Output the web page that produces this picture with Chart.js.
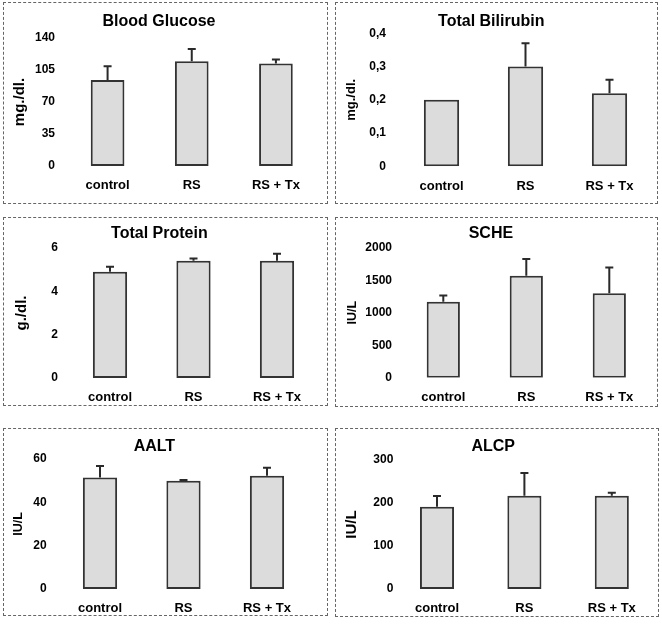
<!DOCTYPE html>
<html>
<head>
<meta charset="utf-8">
<script src="https://cdn.jsdelivr.net/npm/chart.js@4"></script>
<style>
body { margin: 0; background: #fff; width: 662px; height: 628px; position: relative; overflow: hidden; }
canvas { position: absolute; }
.box { position: absolute; border: 1px dashed #666; pointer-events: none; }
</style>
</head>
<body>
<script>
// data
const categories = ['control', 'RS', 'RS + Tx'];
const titles = ['Blood Glucose', 'Total Bilirubin', 'Total Protein', 'SCHE', 'AALT', 'ALCP'];
const yTitles = ['mg./dl.', 'mg./dl.', 'g./dl.', 'IU/L', 'IU/L', 'IU/L'];

const glucose = [94, 114.5, 112];
const glucoseErr = [15, 13.5, 4.5];
const bilirubin = [0.2, 0.3, 0.22];
const bilirubinErr = [0, 0.07, 0.04];
const protein = [4.9, 5.41, 5.41];
const proteinErr = [0.24, 0.11, 0.33];
const sche = [1170, 1570, 1300];
const scheErr = [95, 255, 395];
const aalt = [51.5, 50, 52.3];
const aaltErr = [5.3, 0.3, 3.7];
const alcp = [191, 217, 217];
const alcpErr = [25, 53, 7];

const yMax = [140, 0.4, 6, 2000, 60, 300];
const yStep = [35, 0.1, 2, 500, 20, 100];

const values = [glucose, bilirubin, protein, sche, aalt, alcp];
const errors = [glucoseErr, bilirubinErr, proteinErr, scheErr, aaltErr, alcpErr];

// layout of each panel (page pixels)
const panels = [
    { cell: [0, 0, 331, 210], box: [3, 2, 326, 202], titleY: 22, top: 38, bottom: 166, left: 65.5, right: 318, tickRight: 55, yTitleX: 20, yTitleSize: 15, xLabelY: 185, barPct: 0.40 },
    { cell: [331, 0, 331, 210], box: [335, 2, 656, 202], titleY: 21.7, top: 33.3, bottom: 166.3, left: 399.5, right: 651.5, tickRight: 386, yTitleX: 351.7, yTitleSize: 13, xLabelY: 186, barPct: 0.42 },
    { cell: [0, 210, 331, 206], box: [3, 217, 326, 404], titleY: 234, top: 248, bottom: 378, left: 68.25, right: 318.75, tickRight: 58, yTitleX: 22, yTitleSize: 15, xLabelY: 397, barPct: 0.41 },
    { cell: [331, 210, 331, 206], box: [335, 217, 656, 405], titleY: 234, top: 247.7, bottom: 377.7, left: 401.8, right: 650.8, tickRight: 392, yTitleX: 352.7, yTitleSize: 12.5, xLabelY: 397.7, barPct: 0.40 },
    { cell: [0, 416, 331, 212], box: [3, 428, 326, 614], titleY: 446.7, top: 459, bottom: 589, left: 58.25, right: 308.75, tickRight: 46.7, yTitleX: 18.3, yTitleSize: 12.5, xLabelY: 608.3, barPct: 0.41 },
    { cell: [331, 416, 331, 212], box: [335, 428, 657, 615], titleY: 446.7, top: 460, bottom: 589, left: 393.3, right: 655.5, tickRight: 395, yTitleX: 352, yTitleSize: 15, xLabelY: 608.3, barPct: 0.39 }
];

const fontFamily = "'Liberation Sans', Arial, sans-serif";
const textColor = '#000';

const errorBars = {
    id: 'errorBars',
    afterDatasetsDraw(chart) {
        const ds = chart.data.datasets[0];
        const meta = chart.getDatasetMeta(0);
        const yScale = chart.scales.y;
        const ctx = chart.ctx;
        ctx.save();
        ctx.strokeStyle = '#2a2a2a';
        ctx.lineWidth = 2;
        meta.data.forEach((bar, j) => {
            const e = ds.errors[j];
            if (!e) return;
            const top = yScale.getPixelForValue(ds.data[j] + e);
            ctx.beginPath();
            ctx.moveTo(bar.x, bar.y);
            ctx.lineTo(bar.x, top);
            ctx.moveTo(bar.x - 4, top);
            ctx.lineTo(bar.x + 4, top);
            ctx.stroke();
        });
        ctx.restore();
    }
};

panels.forEach((p, i) => {
    const box = document.createElement('div');
    box.className = 'box';
    box.style.left = p.box[0] + 'px';
    box.style.top = p.box[1] + 'px';
    box.style.width = (p.box[2] - p.box[0]) + 'px';
    box.style.height = (p.box[3] - p.box[1]) + 'px';

    const c = document.createElement('canvas');
    c.width = p.cell[2];
    c.height = p.cell[3];
    c.style.left = p.cell[0] + 'px';
    c.style.top = p.cell[1] + 'px';
    document.body.appendChild(c);
    document.body.appendChild(box);

    const titleLh = 16 * 1.2;
    const titleTop = p.titleY - p.cell[1] - titleLh / 2;
    const titleBottom = p.top - p.cell[1] - titleTop - titleLh;
    const yTitleLh = p.yTitleSize * 1.2;
    const xLabelLh = 13 * 1.2;

    new Chart(c, {
        type: 'bar',
        data: {
            labels: categories,
            datasets: [{
                data: values[i],
                errors: errors[i],
                backgroundColor: '#dcdcdc',
                borderColor: '#333',
                borderWidth: 2,
                borderSkipped: false,
                barPercentage: p.barPct,
                categoryPercentage: 1
            }]
        },
        options: {
            responsive: false,
            animation: false,
            devicePixelRatio: 1,
            layout: { padding: { left: 0, top: 0, bottom: 0, right: p.cell[0] + p.cell[2] - p.right } },
            plugins: {
                legend: { display: false },
                tooltip: { enabled: false },
                title: {
                    display: true,
                    text: titles[i],
                    color: textColor,
                    font: { family: fontFamily, size: 16, weight: 'bold' },
                    padding: { top: titleTop, bottom: titleBottom }
                }
            },
            scales: {
                x: {
                    grid: { display: false, drawTicks: false },
                    border: { display: false },
                    ticks: {
                        color: textColor,
                        font: { family: fontFamily, size: 13, weight: 'bold' },
                        padding: p.xLabelY - p.bottom - xLabelLh / 2,
                        maxRotation: 0
                    },
                    afterFit: s => { s.height = p.cell[1] + p.cell[3] - p.bottom; }
                },
                y: {
                    min: 0,
                    max: yMax[i],
                    grid: { display: false, drawTicks: false },
                    border: { display: false },
                    ticks: {
                        stepSize: yStep[i],
                        color: textColor,
                        font: { family: fontFamily, size: 12, weight: 'bold' },
                        padding: Math.max(p.left - p.tickRight, 0),
                        callback: v => i === 1 ? (v === 0 ? '0' : v.toFixed(1).replace('.', ',')) : v
                    },
                    title: {
                        display: true,
                        text: yTitles[i],
                        color: textColor,
                        font: { family: fontFamily, size: p.yTitleSize, weight: 'bold' },
                        padding: { top: p.yTitleX - p.cell[0] - yTitleLh / 2, bottom: 0 }
                    },
                    afterFit: s => { s.width = p.left - p.cell[0]; }
                }
            }
        },
        plugins: [errorBars]
    });
});
</script>
</body>
</html>
